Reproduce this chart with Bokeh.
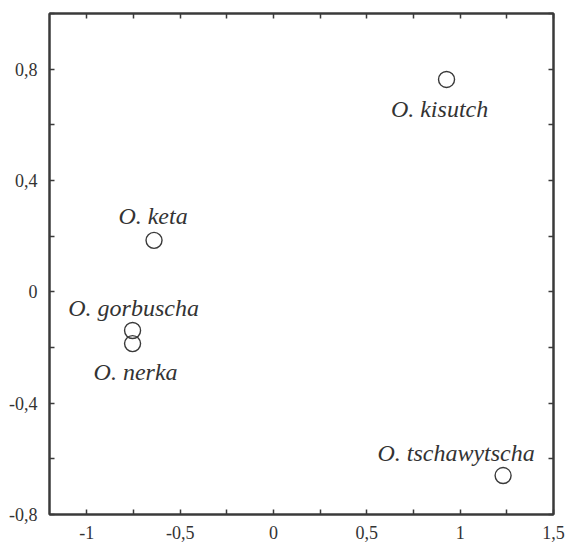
from bokeh.plotting import figure
from bokeh.models import (ColumnDataSource, Range1d, LinearAxis, FixedTicker,
                          CustomJSTickFormatter)
from bokeh.core.properties import value
from bokeh.embed import file_html
from bokeh.resources import INLINE

# ---- data ----
species = ["O. kisutch", "O. tschawytscha", "O. keta", "O. gorbuscha", "O. nerka"]
xs = [0.927, 1.23, -0.64, -0.755, -0.755]
ys = [0.763, -0.66, 0.185, -0.139, -0.186]

x_ticks = [-1, -0.5, 0, 0.5, 1, 1.5]
x_tick_labels = ["-1", "-0,5", "0", "0,5", "1", "1,5"]
x_minor = [-1.25, -0.75, -0.25, 0.25, 0.75, 1.25]
y_ticks = [-0.8, -0.4, 0, 0.4, 0.8]
y_tick_labels = ["-0,8", "-0,4", "0", "0,4", "0,8"]
y_minor = [-0.6, -0.2, 0.2, 0.6, 1.0]

# label placement (screen pixel offsets from each point)
label_dx = [-7, -47, -1, 1, 3]
label_dy = [30, -23, -24, -23, 28]

INK = "#3a3a3a"
TXT = "#333333"
SERIF = "Liberation Serif"

p = figure(width=566, height=545, x_range=Range1d(-1.2, 1.5), y_range=Range1d(-0.8, 1.0),
           output_backend="svg", toolbar_location=None,
           min_border_left=49, min_border_right=13, min_border_top=13, min_border_bottom=31)
p.background_fill_color = "white"
p.border_fill_color = "white"
p.outline_line_color = INK
p.outline_line_width = 2
p.xgrid.visible = False
p.ygrid.visible = False

bottom = p.below[0]
left = p.left[0]

JS = """
const i = tvals.findIndex(t => Math.abs(t - tick) < 1e-9);
return i >= 0 ? tlabels[i] : '';
"""
bottom.formatter = CustomJSTickFormatter(args=dict(tvals=x_ticks, tlabels=x_tick_labels), code=JS)
left.formatter = CustomJSTickFormatter(args=dict(tvals=y_ticks, tlabels=y_tick_labels), code=JS)

top = LinearAxis()
right = LinearAxis()
p.add_layout(top, "above")
p.add_layout(right, "right")

for ax in [bottom, top]:
    ax.ticker = FixedTicker(ticks=x_ticks, minor_ticks=x_minor)
for ax in [left, right]:
    ax.ticker = FixedTicker(ticks=y_ticks, minor_ticks=y_minor)

for ax in [bottom, left, top, right]:
    ax.axis_line_color = INK
    ax.axis_line_width = 2
    ax.major_tick_line_color = INK
    ax.minor_tick_line_color = INK
    ax.major_tick_line_width = 1.5
    ax.minor_tick_line_width = 1.5
    ax.major_tick_in = 5
    ax.major_tick_out = 0
    ax.minor_tick_in = 5
    ax.minor_tick_out = 0
    ax.major_label_text_font = SERIF
    ax.major_label_text_font_size = "18px"
    ax.major_label_text_color = TXT

bottom.major_label_standoff = 11
left.major_label_standoff = 12
for ax in [top, right]:
    ax.major_label_text_font_size = "0px"
    ax.major_label_standoff = 0
    ax.major_label_text_color = None

src = ColumnDataSource(dict(x=xs, y=ys, name=species, dx=label_dx, dy=label_dy))

p.scatter("x", "y", source=src, marker="circle", size=16, fill_color=None,
          line_color=INK, line_width=1.4)
p.text("x", "y", text="name", source=src, x_offset="dx", y_offset="dy",
       text_font=value(SERIF), text_font_style="italic", text_font_size="24px",
       text_align="center", text_baseline="alphabetic", text_color=TXT)

open("out.html", "w").write(file_html(p, INLINE))
